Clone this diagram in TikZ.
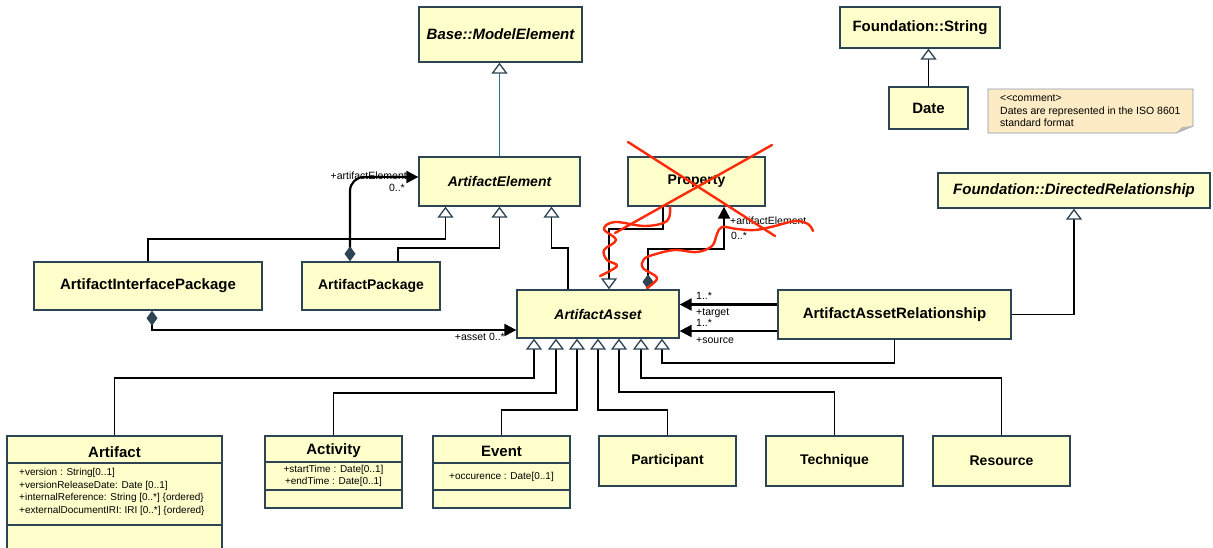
\documentclass[tikz,border=0pt]{standalone}
\usepackage{fontspec}
\setmainfont{Liberation Sans}
\usetikzlibrary{arrows.meta}
\definecolor{boxfill}{HTML}{FFFFCC}
\definecolor{boxline}{HTML}{2C4454}
\definecolor{notefill}{HTML}{FCEBC4}
\definecolor{noteline}{HTML}{8A9AAE}
\definecolor{genteal}{HTML}{2A7393}
\definecolor{scribble}{HTML}{FF2A0A}
\tikzset{
  cls/.style={draw=boxline, fill=boxfill, line width=1.3pt, inner sep=0pt, align=center,
    font=\bfseries\fontsize{14}{16}\selectfont},
  big/.style={font=\bfseries\fontsize{15}{17}\selectfont},
  absb/.style={font=\bfseries\itshape\fontsize{15}{17}\selectfont},
  abs/.style={font=\bfseries\itshape\fontsize{14}{16}\selectfont},
  title/.style={inner sep=0pt, font=\bfseries\fontsize{15}{17}\selectfont},
  attr/.style={inner sep=0pt, font=\fontsize{10}{12.6}\selectfont},
  lbl/.style={inner sep=0pt, font=\fontsize{10.5}{12}\selectfont},
  divider/.style={draw=boxline, line width=1.3pt},
  gen/.style={line width=1.8pt, -{Triangle[open, width=16pt, length=11pt, line width=1.3pt, color=boxline, fill=white]}},
  comp/.style={line width=2.2pt, {Diamond[width=11pt, length=15pt, color=boxline]}-{Triangle[width=12pt, length=12pt]}},
  assoc/.style={line width=2.2pt, -{Triangle[width=12pt, length=12pt]}},
  redline/.style={draw=scribble, line width=2.4pt, line cap=round, line join=round},
}
\begin{document}
\begin{tikzpicture}[x=1pt, y=-1pt]
\useasboundingbox (0,0) rectangle (1213,547);

% top classes
\node[cls, absb, minimum width=163pt, minimum height=55pt] (bme) at (500.5,34.5) {Base::ModelElement};
\node[cls, big, minimum width=160pt, minimum height=41pt] (fstr) at (920,27.5) {Foundation::String};
\node[cls, big, minimum width=79pt, minimum height=42pt] (date) at (928.5,108) {Date};

% comment
\draw[draw=noteline, fill=notefill, line width=0.9pt] (988,89) -- (1193,89) -- (1193,126) -- (1176,133) -- (988,133) -- cycle;
\fill[gray!55] (1176,133) -- (1182,127) -- (1193,126) -- cycle;
\node[anchor=north west, align=left, inner sep=0pt, font=\fontsize{10.5}{12.3}\selectfont] (note) at (1000,95)
  {<{}<comment>\\Dates are represented in the ISO 8601\\standard format};

\node[cls, abs, minimum width=161pt, minimum height=49pt] (ae) at (499.5,181.5) {ArtifactElement};
\node[cls, minimum width=137pt, minimum height=49pt] (prop) at (696.5,181.5) {Property};
\node[cls, absb, minimum width=272pt, minimum height=35pt] (fdr) at (1074,190.5) {Foundation::DirectedRelationship};

\node[cls, big, minimum width=228pt, minimum height=48pt] (aip) at (148,286) {ArtifactInterfacePackage};
\node[cls, minimum width=138pt, minimum height=48pt] (ap) at (371,286) {ArtifactPackage};
\node[cls, abs, minimum width=162pt, minimum height=48pt] (aa) at (598,314) {ArtifactAsset};
\node[cls, big, minimum width=233pt, minimum height=49pt] (aar) at (894.5,314.5) {ArtifactAssetRelationship};

% bottom classes
\node[cls, minimum width=215pt, minimum height=118pt] (art) at (114.5,495) {};
\node[title] (arttitle) at (114.5,452) {Artifact};
\draw[divider] (art.west |- 0,463) -- (art.east |- 0,463);
\draw[divider] (art.west |- 0,525) -- (art.east |- 0,525);
\node[attr, anchor=north west, align=left] (artattr) at (19,468)
  {+version : String[0..1]\\+versionReleaseDate: Date [0..1]\\+internalReference: String [0..*] \{ordered\}\\+externalDocumentIRI: IRI [0..*] \{ordered\}};

\node[cls, minimum width=137pt, minimum height=72pt] (act) at (333.5,472) {};
\node[title] (acttitle) at (333.5,451) {Activity};
\draw[divider] (act.west |- 0,462) -- (act.east |- 0,462);
\draw[divider] (act.west |- 0,490) -- (act.east |- 0,490);
\node[attr, align=center] (actattr) at (333.5,476) {+startTime : Date[0..1]\\+endTime : Date[0..1]};

\node[cls, minimum width=137pt, minimum height=72pt] (ev) at (501.5,472) {};
\node[title] (evtitle) at (501.5,451) {Event};
\draw[divider] (ev.west |- 0,463) -- (ev.east |- 0,463);
\draw[divider] (ev.west |- 0,490) -- (ev.east |- 0,490);
\node[attr] (evattr) at (501.5,476.5) {+occurence : Date[0..1]};

\node[cls, minimum width=137pt, minimum height=50pt] (part) at (667.5,461) {Participant};
\node[cls, minimum width=137pt, minimum height=50pt] (tech) at (834.5,461) {Technique};
\node[cls, minimum width=137pt, minimum height=50pt] (res) at (1001.5,461) {Resource};

% generalizations
\draw[gen, draw=genteal, line width=1.4pt] (ae.north) -- (ae.north |- bme.south);
\draw[gen] (date.north) -- (date.north |- fstr.south);
\draw[gen] (aar.east) -| (fdr.south);
\draw[gen] (aip.north) -- (aip.north |- 0,239) -| ([xshift=-54pt]ae.south);
\draw[gen] ([xshift=27pt]ap.north) -- ([xshift=27pt]ap.north |- 0,248) -| (ae.south);
\draw[gen] ([xshift=-30pt]aa.north) -- ([xshift=-30pt]aa.north |- 0,248) -| ([xshift=52pt]ae.south);
\draw[gen] ([xshift=-33.5pt]prop.south) -- ([xshift=-33.5pt]prop.south |- 0,229) -| ([xshift=11pt]aa.north);

\draw[gen] (art.north) -- (art.north |- 0,378) -| ([xshift=-64pt]aa.south);
\draw[gen] (act.north) -- (act.north |- 0,393) -| ([xshift=-42pt]aa.south);
\draw[gen] (ev.north) -- (ev.north |- 0,410) -| ([xshift=-21pt]aa.south);
\draw[gen] (part.north) -- (part.north |- 0,410) -| (aa.south);
\draw[gen] (tech.north) -- (tech.north |- 0,392) -| ([xshift=21pt]aa.south);
\draw[gen] (res.north) -- (res.north |- 0,378) -| ([xshift=43pt]aa.south);
\draw[gen] (aar.south) -- (aar.south |- 0,363) -| ([xshift=64pt]aa.south);

% compositions / associations
\draw[comp, rounded corners=14pt] ([xshift=-21pt]ap.north) |- ([yshift=4.5pt]ae.west);
\node[lbl, anchor=south east] (l1) at (407,180) {+artifactElement};
\node[lbl, anchor=north east] (l2) at (405,184) {0..*};

\draw[comp] ([xshift=4pt]aip.south) |- ([yshift=-16pt]aa.west);
\node[lbl, anchor=north east] (l3) at (505,333) {+asset 0..*};

\draw[comp] ([xshift=50pt]aa.north) -- ([xshift=50pt]aa.north |- 0,249) -| ([xshift=27.5pt]prop.south);
\node[lbl, anchor=west] (l4) at (730,221) {+artifactElement};
\node[lbl, anchor=west] (l5) at (731,236) {0..*};

\draw[assoc] ([yshift=10pt]aar.west) -- ([yshift=10pt]aar.west -| aa.east);
\draw[assoc] ([yshift=-16.5pt]aar.west) -- ([yshift=-16.5pt]aar.west -| aa.east);
\node[lbl, anchor=west] (l6) at (696,296) {1..*};
\node[lbl, anchor=west] (l7) at (696,313) {+target};
\node[lbl, anchor=west] (l8) at (696,323) {1..*};
\node[lbl, anchor=west] (l9) at (696,341) {+source};

% red strike-out
\draw[redline] (628,142) -- (775,236);
\draw[redline] (772,145) -- (615,233);
\draw[redline] plot[smooth, tension=0.6] coordinates {(670,207) (667,221) (645,226) (615,222) (604,229) (616,240) (604,250) (607,260) (617,266) (600,276)};
\draw[redline] plot[smooth, tension=0.6] coordinates {(647,288) (657,278) (643,268) (644,259) (656,254) (675,250) (697,252) (712,246) (717,234) (722,227) (737,229) (755,230) (775,226) (795,221) (808,224) (813,231)};
\end{tikzpicture}
\end{document}
